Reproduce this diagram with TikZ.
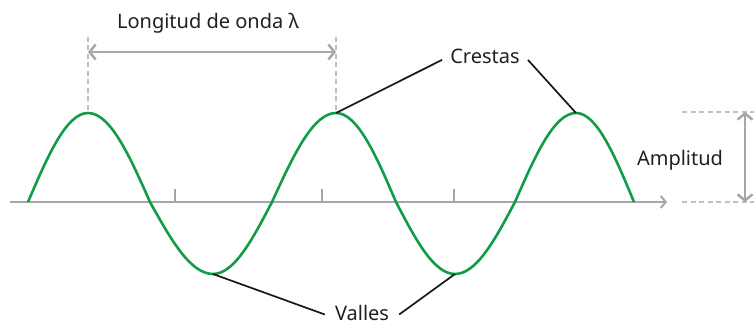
\documentclass[tikz,border=0pt]{standalone}
\usepackage{fontspec}
\setmainfont{Noto Sans}
\usetikzlibrary{arrows.meta}
\definecolor{wavegreen}{RGB}{18,156,72}
\definecolor{axisgray}{RGB}{166,166,171}
\definecolor{guidegray}{RGB}{192,192,196}
\definecolor{labelink}{RGB}{35,31,32}
\tikzset{
  wave/.style={wavegreen, line width=2.6pt},
  axisline/.style={axisgray, line width=2pt, -{Straight Barb[length=5pt, width=12pt]}},
  tick/.style={axisgray, line width=1.6pt},
  guide/.style={guidegray, line width=1.6pt, dash pattern=on 5pt off 3.5pt},
  measure/.style={axisgray, line width=2.5pt, {Straight Barb[length=6pt, width=15pt]}-{Straight Barb[length=6pt, width=15pt]}},
  leader/.style={black!90, line width=1.7pt},
  lbl/.style={text=labelink, font=\fontsize{20}{23}\selectfont, inner sep=0pt, anchor=base}
}

\begin{document}
\begin{tikzpicture}[x=1pt, y=-1pt]
  \useasboundingbox (0,0) rectangle (754,326);

  % Axis and ticks
  \coordinate (ax0) at (10,202);
  \coordinate (ax1) at (667,202);
  \draw[axisline] (ax0) -- (ax1);
  \foreach \tx in {175, 322, 454}{
    \draw[tick] (\tx,202) -- (\tx,189);
  }

  % Wave: zero crossings (w), crests (c), troughs (v)
  \coordinate (w0) at (28,202);
  \coordinate (c1) at (88,113);
  \coordinate (w1) at (150,202);
  \coordinate (v1) at (213,274);
  \coordinate (w2) at (272,202);
  \coordinate (c2) at (336,113);
  \coordinate (w3) at (396,202);
  \coordinate (v2) at (455,274);
  \coordinate (w4) at (515,202);
  \coordinate (c3) at (576,113);
  \coordinate (w5) at (634,202);
  \draw[wave] (w0) sin (c1) cos (w1) sin (v1) cos (w2) sin (c2) cos (w3)
    sin (v2) cos (w4) sin (c3) cos (w5);

  % Wavelength
  \coordinate (g1) at (88,37);
  \coordinate (g2) at (336,37);
  \draw[guide] (g1) -- (c1);
  \draw[guide] (g2) -- (c2);
  \coordinate (la) at (88,52);
  \coordinate (lb) at (336,52);
  \draw[measure] (la) -- (lb);
  \node[lbl] (lambda) at (208,29) {Longitud de onda λ};

  % Amplitude
  \coordinate (h1) at (682,112);
  \coordinate (h1e) at (754,112);
  \coordinate (h2) at (682,202);
  \coordinate (h2e) at (754,202);
  \draw[guide] (h1) -- (h1e);
  \draw[guide] (h2) -- (h2e);
  \coordinate (aa) at (745,112);
  \coordinate (ab) at (745,202);
  \draw[measure] (aa) -- (ab);
  \node[lbl] (amp) at (680,165) {Amplitud};

  % Crests and troughs labels
  \node[lbl, inner xsep=8pt] (crestas) at (485,64) {Crestas};
  \draw[leader] (c2) -- ([yshift=-3pt]crestas.west);
  \draw[leader] ([yshift=-3pt]crestas.east) -- (c3);

  \node[lbl, inner xsep=10pt] (valles) at (362,320) {Valles};
  \draw[leader] (v1) -- ([yshift=-2pt]valles.west);
  \draw[leader] ([yshift=-2pt]valles.east) -- (v2);
\end{tikzpicture}
\end{document}
